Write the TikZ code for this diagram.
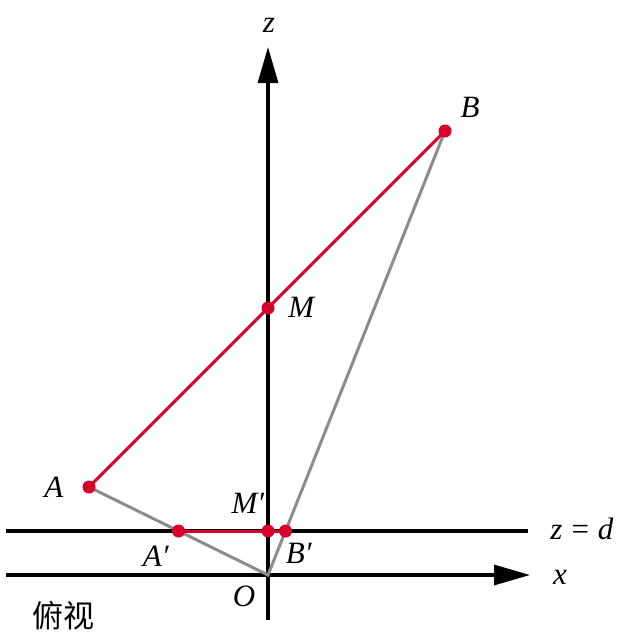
\documentclass[tikz,border=0pt]{standalone}
\usepackage{fontspec}
\setmainfont{Liberation Serif}
\newfontfamily\cjk{Noto Sans CJK SC}
\usetikzlibrary{arrows.meta}
\definecolor{segred}{HTML}{D8002A}
\definecolor{projgray}{HTML}{8C8C8C}
\tikzset{
  axis/.style={line width=3.2pt, black},
  axisarrow/.style={axis, -{Triangle[length=36pt,width=20pt]}},
  grayline/.style={line width=3pt, projgray},
  redline/.style={line width=3pt, segred},
  lbl/.style={font=\fontsize{31}{34}\selectfont, inner sep=0pt},
  dotfill/.style={fill=segred}
}
\begin{document}
\begin{tikzpicture}[x=1pt,y=-1pt]
\useasboundingbox (0,0) rectangle (623,642);
% points
\coordinate (O) at (268,575);
\coordinate (A) at (89,487);
\coordinate (B) at (445,131);
\coordinate (M) at (268,308);
\coordinate (Ap) at (178.5,531);
\coordinate (Mp) at (268,531);
\coordinate (Bp) at (285.5,531);
\coordinate (zbot) at (268,620);
\coordinate (ztop) at (268,47);
\coordinate (xleft) at (6,575);
\coordinate (xright) at (530,575);
\coordinate (dleft) at (6,531);
\coordinate (dright) at (528,531);
% axes
\draw[axis] (dleft) -- (dright);
\draw[axisarrow] (xleft) -- (xright);
\draw[axisarrow] (zbot) -- (ztop);
% projection lines
\draw[grayline] (A) -- (O) -- (B);
% segments
\draw[redline] (A) -- (B);
\draw[redline] (Ap) -- (Bp);
% dots
\foreach \p in {A,B,M,Ap,Mp,Bp} \fill[dotfill] (\p) circle (6.5);
% labels
\node[lbl] (lz) at (269,25) {\textit{z}};
\node[lbl] (lB) at (470,107) {\textit{B}};
\node[lbl] (lM) at (302,307) {\textit{M}};
\node[lbl] (lA) at (54,487) {\textit{A}};
\node[lbl] (lMp) at (248,503) {\textit{M′}};
\node[lbl] (lAp) at (156,556) {\textit{A′}};
\node[lbl] (lBp) at (299,553) {\textit{B′}};
\node[lbl] (lO) at (244,596) {\textit{O}};
\node[lbl] (lx) at (560,577) {\textit{x}};
\node[lbl] (lzd) at (582,529) {\textit{z}\hspace{9pt}=\hspace{9pt}\textit{d}};
\node[lbl, font=\cjk\fontsize{31}{34}\selectfont] (lfs) at (63,616) {俯视};
\end{tikzpicture}
\end{document}
